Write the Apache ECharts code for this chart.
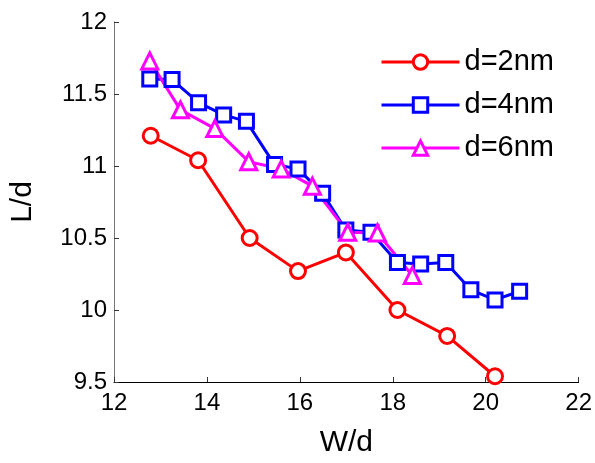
<!DOCTYPE html>
<html>
<head>
<meta charset="utf-8">
<script src="https://cdn.jsdelivr.net/npm/echarts@6/dist/echarts.min.js"></script>
<style>
html,body{margin:0;padding:0;background:#fff;}
#chart{width:595px;height:463px;}
</style>
</head>
<body>
<div id="chart"></div>
<script>
// Data
const seriesNames = ['d=2nm', 'd=4nm', 'd=6nm'];
const x2nm = [12.79, 13.81, 14.92, 15.96, 16.99, 18.10, 19.17, 20.20];
const y2nm = [11.21, 11.04, 10.50, 10.27, 10.40, 10.00, 9.82, 9.54];
const x4nm = [12.77, 13.25, 13.82, 14.36, 14.85, 15.455, 15.96, 16.49, 16.99, 17.53, 18.10, 18.60, 19.14, 19.68, 20.20, 20.73];
const y4nm = [11.605, 11.60, 11.44, 11.355, 11.31, 11.01, 10.98, 10.81, 10.555, 10.54, 10.33, 10.32, 10.33, 10.14, 10.07, 10.13];
const x6nm = [12.77, 13.43, 14.17, 14.90, 15.60, 16.27, 17.03, 17.67, 18.42];
const y6nm = [11.73, 11.39, 11.26, 11.03, 10.98, 10.86, 10.54, 10.535, 10.24];
const xTicks = [12, 14, 16, 18, 20, 22];
const yTicks = [9.5, 10, 10.5, 11, 11.5, 12];

const zip = (xs, ys) => xs.map((x, i) => [x, ys[i]]);
const FONT = '"Liberation Sans", Arial, Helvetica, sans-serif';

function mkSeries(name, data, color, symbol, size) {
  return {
    name: name,
    type: 'line',
    data: data,
    symbol: symbol,
    symbolSize: size,
    showAllSymbol: true,
    lineStyle: { color: color, width: 3 },
    itemStyle: { color: '#ffffff', borderColor: color, borderWidth: 3 },
    emphasis: { disabled: true },
    animation: false
  };
}

const chart = echarts.init(document.getElementById('chart'), null, { renderer: 'canvas' });
chart.setOption({
  backgroundColor: '#ffffff',
  animation: false,
  grid: { left: 114, right: 15, top: 22, bottom: 80, containLabel: false },
  legend: {
    data: seriesNames,
    orient: 'vertical',
    left: 375,
    top: 42,
    itemWidth: 78,
    itemHeight: 18,
    itemGap: 13,
    selectedMode: false,
    lineStyle: { width: 3 },
    itemStyle: { borderWidth: 3 },
    textStyle: { fontFamily: FONT, fontSize: 29, color: '#000', lineHeight: 30, padding: [0, 0, 0, 0] }
  },
  xAxis: {
    type: 'value',
    min: xTicks[0],
    max: xTicks[xTicks.length - 1],
    interval: 2,
    name: 'W/d',
    nameLocation: 'middle',
    nameGap: 46,
    nameTextStyle: { fontFamily: FONT, fontSize: 30, color: '#000' },
    axisLine: { show: true, lineStyle: { color: '#000', width: 1 } },
    axisTick: { show: true, inside: true, length: 5, lineStyle: { color: '#333' } },
    axisLabel: { fontFamily: FONT, fontSize: 24, color: '#000', margin: 9 },
    splitLine: { show: false }
  },
  yAxis: {
    type: 'value',
    min: yTicks[0],
    max: yTicks[yTicks.length - 1],
    interval: 0.5,
    name: 'L/d',
    nameLocation: 'middle',
    nameGap: 76,
    nameTextStyle: { fontFamily: FONT, fontSize: 30, color: '#000' },
    axisLine: { show: true, lineStyle: { color: '#777', width: 1 } },
    axisTick: { show: true, inside: true, length: 5, lineStyle: { color: '#333' } },
    axisLabel: { fontFamily: FONT, fontSize: 24, color: '#000', margin: 7 },
    splitLine: { show: false }
  },
  series: [
    mkSeries(seriesNames[0], zip(x2nm, y2nm), '#ff0000', 'circle', 15),
    mkSeries(seriesNames[1], zip(x4nm, y4nm), '#0000ff', 'rect', 14),
    mkSeries(seriesNames[2], zip(x6nm, y6nm), '#ff00ff', 'triangle', 16)
  ]
});
</script>
</body>
</html>
